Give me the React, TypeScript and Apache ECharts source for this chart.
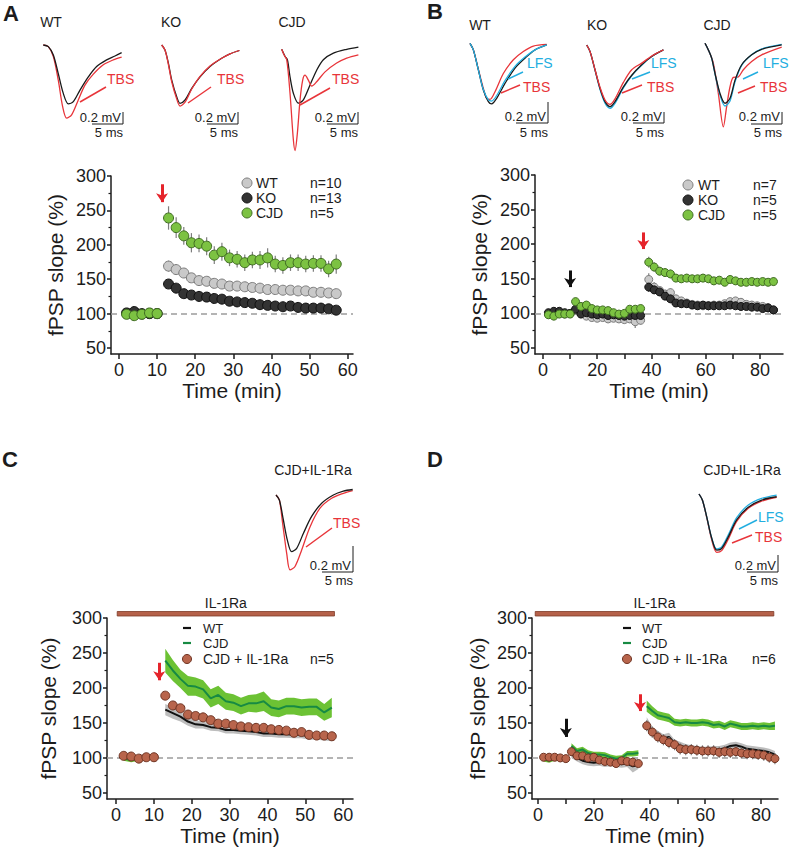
import React, { useEffect, useRef } from "react";
import * as echarts from "echarts";

// ---------------- Panel A / C time base (min) ----------------
const A_TIME = [2, 4, 6, 8, 10, 13, 15, 17, 19, 21, 23, 25, 27, 29, 31, 33, 35, 37, 39, 41, 43, 45, 47, 49, 51, 53, 55, 57];
const A_SEGMENTS = [[0, 5], [5, 28]];
const A_WT = [100, 102, 99, 100, 100, 169, 164, 159, 152, 148, 147, 144, 143, 140, 140, 139, 138, 137, 135, 135, 134, 134, 133, 133, 131, 131, 130, 129];
const A_WT_ERR = [2, 2, 2, 2, 2, 8, 8, 7, 6, 6, 5, 5, 5, 5, 5, 5, 5, 5, 5, 5, 5, 5, 5, 5, 5, 5, 5, 5];
const A_KO = [101, 103, 100, 100, 100, 143, 137, 129, 127, 125, 124, 122, 121, 118, 117, 116, 115, 113, 112, 111, 110, 111, 109, 108, 108, 108, 107, 105];
const A_KO_ERR = [2, 2, 2, 2, 2, 6, 5, 4, 4, 4, 4, 4, 4, 4, 4, 4, 4, 4, 4, 4, 4, 4, 4, 4, 4, 4, 4, 4];
const A_CJD = [99, 97, 99, 101, 100, 239, 225, 213, 203, 202, 198, 185, 190, 181, 179, 174, 178, 178, 181, 172, 170, 174, 174, 172, 173, 173, 165, 172];
const A_CJD_ERR = [3, 3, 3, 3, 3, 17, 15, 13, 14, 13, 13, 13, 13, 12, 12, 12, 12, 13, 14, 12, 12, 12, 12, 12, 12, 12, 12, 14];
const C_IL = [103, 102, 99, 101, 101, 189, 175, 171, 162, 160, 158, 154, 149, 149, 147, 145, 144, 143, 143, 141, 140, 139, 136, 137, 133, 132, 132, 131];
const C_IL_ERR = [2, 2, 2, 2, 2, 4, 4, 4, 4, 4, 4, 4, 4, 4, 4, 4, 4, 4, 4, 4, 4, 4, 4, 4, 4, 4, 5, 5];

// ---------------- Panel B / D time base (min) ----------------
const B_TIME = [2, 4, 6, 8, 10, 12, 14, 16, 18, 20, 22, 24, 26, 28, 30, 32, 34, 36, 39, 41, 43, 45, 47, 49, 51, 53, 55, 57, 59, 61, 63, 65, 67, 69, 71, 73, 75, 77, 79, 81, 83, 85];
const B_SEGMENTS = [[0, 5], [5, 18], [18, 42]];
const B_WT = [99, 101, 100, 99, 100, 105, 100, 96, 94, 93, 94, 92, 93, 92, 91, 92, 88, 90, 149, 138, 133, 128, 130, 121, 118, 115, 113, 112, 111, 111, 112, 112, 114, 117, 118, 116, 113, 112, 111, 110, 108, 105];
const B_WT_ERR = [3, 3, 3, 3, 3, 5, 5, 5, 5, 5, 5, 5, 5, 5, 5, 5, 9, 6, 9, 7, 6, 6, 6, 5, 5, 5, 5, 5, 5, 5, 5, 5, 5, 5, 5, 5, 5, 5, 5, 5, 5, 5];
const B_KO = [101, 103, 103, 101, 100, 106, 99, 101, 99, 98, 99, 97, 98, 97, 96, 97, 97, 97, 138, 134, 131, 125, 121, 115, 114, 114, 112, 111, 112, 111, 111, 111, 111, 112, 111, 110, 110, 109, 109, 107, 108, 105];
const B_KO_ERR = [3, 3, 3, 3, 3, 4, 4, 4, 4, 4, 4, 4, 4, 4, 4, 4, 4, 4, 7, 6, 5, 5, 4, 4, 4, 4, 4, 4, 4, 4, 4, 4, 4, 4, 4, 4, 4, 4, 4, 4, 4, 4];
const B_CJD = [98, 96, 99, 99, 99, 117, 110, 112, 107, 105, 105, 104, 101, 99, 100, 106, 106, 107, 174, 167, 161, 159, 157, 151, 150, 151, 150, 150, 151, 150, 147, 148, 145, 149, 147, 145, 145, 146, 145, 146, 145, 146];
const B_CJD_ERR = [3, 3, 3, 3, 3, 4, 4, 4, 4, 4, 4, 4, 4, 4, 4, 4, 4, 4, 8, 7, 6, 6, 6, 5, 5, 5, 5, 5, 5, 5, 5, 5, 5, 5, 5, 5, 5, 5, 5, 5, 5, 6];
const D_IL = [101, 101, 101, 100, 99, 109, 103, 103, 100, 101, 97, 95, 94, 92, 96, 95, 94, 92, 146, 137, 130, 126, 122, 119, 113, 112, 112, 111, 110, 110, 110, 108, 109, 108, 109, 107, 106, 106, 105, 104, 101, 99];
const D_IL_ERR = [2, 2, 2, 2, 2, 4, 4, 4, 4, 4, 4, 4, 4, 4, 4, 4, 4, 5, 8, 8, 8, 8, 8, 8, 8, 8, 8, 8, 8, 8, 8, 8, 8, 8, 8, 8, 8, 8, 8, 8, 8, 8];

// ---------------- stimulation arrows (min, % from -> to) ----------------
const ARROWS_A = [{ t: 11.3, from: 288, to: 262, kind: "TBS" }];
const ARROWS_B = [{ t: 10, from: 162, to: 138, kind: "LFS" }, { t: 37, from: 217, to: 193, kind: "TBS" }];
const ARROWS_C = [{ t: 11.4, from: 236, to: 211, kind: "TBS" }];
const ARROWS_D = [{ t: 10, from: 156, to: 130, kind: "LFS" }, { t: 36.6, from: 191, to: 167, kind: "TBS" }];

// IL-1Ra application period (min)
const IL_PERIOD_C = [0.3, 57.7];
const IL_PERIOD_D = [-1, 84.6];

// ---------------- ticks ----------------
const X_TICKS_A = [0, 10, 20, 30, 40, 50, 60];
const X_LABELS_A = [0, 10, 20, 30, 40, 50, 60];
const X_TICKS_B = [0, 10, 20, 30, 40, 50, 60, 70, 80];
const X_LABELS_B = [0, 20, 40, 60, 80];
const Y_TICKS = [50, 100, 150, 200, 250, 300];
const Y_MINOR = [75, 125, 175, 225, 275];
const BASELINE = 100;

// ---------------- example traces [ms, mV] ----------------
const TR_A_WT_PRE = [[0, 0], [0.76, -0.03], [1.52, -0.18], [2.27, -0.52], [3.03, -0.88], [3.79, -1.07], [4.55, -1.03], [5.56, -0.82], [6.82, -0.58], [8.08, -0.39], [9.6, -0.27], [10.86, -0.2], [11.87, -0.14]];
const TR_A_WT_TBS = [[0, 0], [0.76, -0.03], [1.52, -0.21], [2.27, -0.64], [2.93, -1.12], [3.54, -1.33], [4.29, -1.27], [5.3, -1.0], [6.31, -0.73], [7.58, -0.53], [9.09, -0.36], [10.6, -0.27], [11.87, -0.22]];
const TR_A_KO_PRE = [[0, 0], [0.5, -0.09], [1.01, -0.33], [1.52, -0.64], [2.27, -0.94], [2.78, -1.06], [3.54, -1.0], [4.55, -0.79], [5.81, -0.58], [7.32, -0.39], [9.09, -0.24], [10.35, -0.16], [11.77, -0.1]];
const TR_A_KO_TBS = [[0, 0], [0.5, -0.09], [1.01, -0.35], [1.52, -0.67], [2.27, -0.98], [2.78, -1.11], [3.54, -1.04], [4.55, -0.8], [5.81, -0.57], [7.32, -0.38], [9.09, -0.24], [10.35, -0.16], [11.77, -0.1]];
const TR_A_CJD_PRE = [[0, 0], [0.51, -0.13], [0.86, -0.19], [1.26, -0.5], [1.77, -0.8], [2.53, -0.98], [3.28, -0.92], [4.29, -0.65], [5.3, -0.38], [6.31, -0.19], [7.83, -0.07], [9.85, 0], [11.62, 0.04]];
const TR_A_CJD_TBS = [[0, 0], [0.35, -0.1], [0.76, -0.19], [1.26, -0.8], [1.77, -1.65], [2.02, -1.84], [2.37, -1.53], [2.78, -0.92], [3.18, -0.56], [3.54, -0.47], [4.04, -0.56], [4.55, -0.67], [5.3, -0.59], [6.57, -0.41], [8.33, -0.25], [9.85, -0.16], [11.62, -0.1]];
const TR_B_WT_PRE = [[0, 0], [0.51, -0.12], [1.26, -0.48], [2.02, -0.85], [2.78, -1.06], [3.28, -1.1], [4.04, -1.0], [5.3, -0.73], [6.82, -0.45], [8.33, -0.27], [9.85, -0.12], [11.62, -0.03]];
const TR_B_WT_LFS = [[0, 0], [0.51, -0.12], [1.26, -0.48], [2.02, -0.84], [2.78, -1.03], [3.28, -1.05], [4.04, -0.95], [5.3, -0.68], [6.82, -0.42], [8.33, -0.25], [9.85, -0.12], [11.62, -0.03]];
const TR_B_WT_TBS = [[0, 0], [0.51, -0.12], [1.26, -0.47], [2.02, -0.82], [2.53, -1.0], [3.03, -1.02], [3.79, -0.88], [5.05, -0.55], [6.57, -0.3], [8.08, -0.15], [9.6, -0.05], [11.62, -0.02]];
const TR_B_KO_PRE = [[0, 0], [0.51, -0.12], [1.26, -0.45], [2.02, -0.79], [2.78, -1.03], [3.54, -1.12], [4.29, -1.03], [5.56, -0.76], [6.82, -0.55], [8.33, -0.36], [9.85, -0.21], [11.62, -0.09]];
const TR_B_KO_LFS = [[0, 0], [0.51, -0.12], [1.26, -0.46], [2.02, -0.81], [2.78, -1.06], [3.54, -1.15], [4.29, -1.06], [5.56, -0.78], [6.82, -0.56], [8.33, -0.37], [9.85, -0.21], [11.62, -0.09]];
const TR_B_KO_TBS = [[0, 0], [0.51, -0.12], [1.26, -0.45], [2.02, -0.77], [2.78, -1.0], [3.54, -1.08], [4.29, -0.98], [5.56, -0.68], [6.82, -0.45], [8.33, -0.33], [9.85, -0.2], [11.62, -0.09]];
const TR_B_CJD_PRE = [[0, 0], [0.51, -0.12], [1.01, -0.27], [1.52, -0.55], [2.27, -0.91], [3.03, -1.09], [3.79, -1.0], [4.55, -0.67], [5.56, -0.39], [7.07, -0.21], [8.59, -0.11], [11.62, -0.03]];
const TR_B_CJD_LFS = [[0, 0], [0.51, -0.12], [1.01, -0.27], [1.52, -0.56], [2.27, -0.94], [3.03, -1.14], [3.79, -1.05], [4.55, -0.7], [5.56, -0.4], [7.07, -0.21], [8.59, -0.1], [11.62, -0.02]];
const TR_B_CJD_TBS = [[0, 0], [0.51, -0.12], [1.26, -0.36], [2.02, -0.91], [2.78, -1.52], [3.28, -1.15], [3.79, -0.79], [4.29, -0.62], [5.05, -0.61], [5.81, -0.48], [7.07, -0.33], [8.59, -0.21], [11.62, -0.07]];
const TR_C_PRE = [[0, 0], [0.51, -0.09], [1.11, -0.45], [1.72, -0.82], [2.37, -1.03], [3.13, -0.97], [4.14, -0.7], [5.4, -0.39], [6.92, -0.15], [8.69, 0], [10.2, 0.07], [11.62, 0.1]];
const TR_C_TBS = [[0, 0], [0.51, -0.09], [1.01, -0.52], [1.62, -1.06], [2.12, -1.36], [2.88, -1.3], [3.89, -1.0], [5.15, -0.58], [6.67, -0.24], [8.43, -0.06], [10.2, 0.03], [11.62, 0.08]];
const TR_D_PRE = [[0, 0], [0.51, -0.11], [1.16, -0.41], [1.92, -0.8], [2.68, -1.02], [3.43, -0.99], [4.44, -0.78], [5.71, -0.47], [7.47, -0.24], [9.49, -0.11], [11.77, -0.05]];
const TR_D_LFS = [[0, 0], [0.51, -0.11], [1.16, -0.41], [1.92, -0.8], [2.68, -1.0], [3.43, -0.96], [4.44, -0.74], [5.71, -0.43], [7.47, -0.2], [9.49, -0.08], [11.77, -0.02]];
const TR_D_TBS = [[0, 0], [0.51, -0.11], [1.16, -0.42], [1.92, -0.83], [2.68, -1.06], [3.43, -1.03], [4.44, -0.82], [5.71, -0.5], [7.47, -0.26], [9.49, -0.13], [11.77, -0.06]];

// ---------------- styles ----------------
const FONT = "'Liberation Sans', Arial, Helvetica, sans-serif";
const INK = "#1c1c1c";
const RED = "#e8353a";
const CYAN = "#23aee0";
const TRACE_BLACK = "#1a1a1a";
const GREEN = { fill: "#7cc242", stroke: "#3f6b22" };
const GRAY = { fill: "#c9c9c9", stroke: "#7b7b7b" };
const DARK = { fill: "#333333", stroke: "#111111" };
const BROWN = { fill: "#b8654c", stroke: "#6e3322" };
const CJD_LINE = "#178a43";
const CJD_BAND = "#6cc234";
const WT_BAND = "#bdbdbd";
const ERR = "#7d7d7d";

const PANELS = [
  { left: 111, top: 176, right: 353, bottom: 354, xmin: -2.1, xmax: 61.4, xTicks: X_TICKS_A, xLabels: X_LABELS_A, xGap: 24, yGap: 45 },
  { left: 535, top: 175, right: 783, bottom: 354, xmin: -2.95, xmax: 88.5, xTicks: X_TICKS_B, xLabels: X_LABELS_B, xGap: 24, yGap: 45 },
  { left: 107, top: 618, right: 353, bottom: 799, xmin: -2.4, xmax: 62.6, xTicks: X_TICKS_A, xLabels: X_LABELS_A, xGap: 26, yGap: 48 },
  { left: 532, top: 618, right: 778, bottom: 799, xmin: -2.15, xmax: 86.1, xTicks: X_TICKS_B, xLabels: X_LABELS_B, xGap: 26, yGap: 44 },
];
const YMIN = 41.3;
const YMAX = 300;

const TRACE_GROUPS = [
  { ox: 43.3, oy: 45, lines: [{ d: TR_A_WT_TBS, c: RED }, { d: TR_A_WT_PRE, c: TRACE_BLACK }] },
  { ox: 161.7, oy: 45, lines: [{ d: TR_A_KO_PRE, c: TRACE_BLACK }, { d: TR_A_KO_TBS, c: RED }] },
  { ox: 281.7, oy: 49.3, lines: [{ d: TR_A_CJD_PRE, c: TRACE_BLACK }, { d: TR_A_CJD_TBS, c: RED }] },
  { ox: 470, oy: 43.3, lines: [{ d: TR_B_WT_TBS, c: RED }, { d: TR_B_WT_PRE, c: TRACE_BLACK }, { d: TR_B_WT_LFS, c: CYAN }] },
  { ox: 586.7, oy: 45, lines: [{ d: TR_B_KO_LFS, c: CYAN }, { d: TR_B_KO_PRE, c: TRACE_BLACK }, { d: TR_B_KO_TBS, c: RED }] },
  { ox: 705, oy: 43.3, lines: [{ d: TR_B_CJD_TBS, c: RED }, { d: TR_B_CJD_LFS, c: CYAN }, { d: TR_B_CJD_PRE, c: TRACE_BLACK }] },
  { ox: 276, oy: 495, lines: [{ d: TR_C_TBS, c: RED }, { d: TR_C_PRE, c: TRACE_BLACK }] },
  { ox: 699, oy: 494, lines: [{ d: TR_D_TBS, c: RED }, { d: TR_D_LFS, c: CYAN }, { d: TR_D_PRE, c: TRACE_BLACK }] },
];
const TR_PX_PER_MS = 6.6;
const TR_PX_PER_MV = 55;

function errSeries(gi: number, T: number[], V: number[], E: number[], z: number) {
  return {
    type: "custom",
    xAxisIndex: gi,
    yAxisIndex: gi,
    z,
    silent: true,
    data: T.map((t, i) => [t, V[i], E[i]]),
    encode: { x: 0, y: 1 },
    renderItem: (_p: any, api: any) => {
      const t = api.value(0);
      const v = api.value(1);
      const e = api.value(2);
      const a = api.coord([t, v - e]);
      const b = api.coord([t, v + e]);
      return { type: "line", shape: { x1: a[0], y1: a[1], x2: b[0], y2: b[1] }, style: { stroke: ERR, lineWidth: 1.2 } };
    },
  };
}

function scatterSeries(gi: number, T: number[], V: number[], col: any, size: number, z: number, extra: any = {}) {
  return {
    type: "scatter",
    xAxisIndex: gi,
    yAxisIndex: gi,
    z,
    symbol: "circle",
    symbolSize: size,
    data: T.map((t, i) => [t, V[i]]),
    itemStyle: { color: col.fill, borderColor: col.stroke, borderWidth: 1, opacity: 1 },
    ...extra,
  };
}

function bandSeries(gi: number, T: number[], V: number[], E: number[], segs: number[][], color: string, z: number) {
  return {
    type: "custom",
    xAxisIndex: gi,
    yAxisIndex: gi,
    z,
    silent: true,
    data: [[T[0], V[0]]],
    renderItem: (_p: any, api: any) => {
      const children = segs.map(([s, e]) => {
        const up: number[][] = [];
        const dn: number[][] = [];
        for (let i = s; i < e; i++) {
          up.push(api.coord([T[i], V[i] + E[i]]));
          dn.push(api.coord([T[i], V[i] - E[i]]));
        }
        return { type: "polygon", shape: { points: up.concat(dn.reverse()) }, style: { fill: color } };
      });
      return { type: "group", children };
    },
  };
}

function lineSeries(gi: number, T: number[], V: number[], segs: number[][], color: string, z: number) {
  return segs.map(([s, e]) => ({
    type: "line",
    xAxisIndex: gi,
    yAxisIndex: gi,
    z,
    silent: true,
    symbol: "none",
    data: T.slice(s, e).map((t, i) => [t, V[s + i]]),
    lineStyle: { color, width: 2 },
  }));
}

function dashedMark() {
  return {
    silent: true,
    z: 1,
    symbol: ["none", "none"],
    label: { show: false },
    lineStyle: { color: "#9c9c9c", type: [6, 4], width: 1.5 },
    data: [{ yAxis: BASELINE }],
  };
}

function arrowMark(arrows: any[]) {
  return {
    silent: true,
    z: 20,
    symbol: ["none", "arrow"],
    symbolSize: 9,
    label: { show: false },
    data: arrows.map((a) => {
      const ls = { color: a.kind === "TBS" ? "#e5242b" : "#111111", width: 3, type: "solid" };
      return [
        { coord: [a.t, a.from], lineStyle: ls },
        { coord: [a.t, a.to], lineStyle: ls },
      ];
    }),
  };
}

function buildOption() {
  const grid: any[] = [];
  const xAxis: any[] = [];
  const yAxis: any[] = [];
  const series: any[] = [];

  PANELS.forEach((p, i) => {
    grid.push({ left: p.left, top: p.top, width: p.right - p.left, height: p.bottom - p.top });
    xAxis.push({
      type: "value",
      gridIndex: i,
      min: p.xmin,
      max: p.xmax,
      axisLine: { show: true, onZero: false, lineStyle: { color: INK, width: 1.5 } },
      axisTick: { show: true, inside: false, length: 5, customValues: p.xTicks, lineStyle: { color: INK, width: 1.5 } },
      axisLabel: { customValues: p.xLabels, margin: 7, fontSize: 18, color: INK, fontFamily: FONT },
      splitLine: { show: false },
      name: "Time (min)",
      nameLocation: "middle",
      nameGap: p.xGap,
      nameTextStyle: { fontSize: 21, color: INK, fontFamily: FONT },
    });
  });
  PANELS.forEach((p, i) => {
    yAxis.push({
      type: "value",
      gridIndex: i,
      position: "left",
      min: YMIN,
      max: YMAX,
      axisLine: { show: true, onZero: false, lineStyle: { color: INK, width: 1.5 } },
      axisTick: { show: true, inside: false, length: 4, customValues: Y_TICKS, lineStyle: { color: INK, width: 1.5 } },
      axisLabel: { customValues: Y_TICKS, margin: 5, fontSize: 18, color: INK, fontFamily: FONT },
      splitLine: { show: false },
      name: "fPSP slope (%)",
      nameLocation: "middle",
      nameGap: p.yGap,
      nameTextStyle: { fontSize: 21, color: INK, fontFamily: FONT },
    });
  });
  PANELS.forEach((_p, i) => {
    yAxis.push({
      type: "value",
      gridIndex: i,
      position: "left",
      min: YMIN,
      max: YMAX,
      axisLine: { show: false, onZero: false },
      axisTick: { show: true, inside: false, length: 2.5, customValues: Y_MINOR, lineStyle: { color: INK, width: 1.2 } },
      axisLabel: { show: false },
      splitLine: { show: false },
    });
  });

  TRACE_GROUPS.forEach((g, k) => {
    const gi = 4 + k;
    grid.push({ left: g.ox, top: g.oy - 0.2 * TR_PX_PER_MV, width: 12 * TR_PX_PER_MS, height: 2.2 * TR_PX_PER_MV });
    xAxis.push({ type: "value", gridIndex: gi, min: 0, max: 12, show: false });
    yAxis.push({ type: "value", gridIndex: gi, min: -2, max: 0.2, show: false });
    g.lines.forEach((ln) => {
      series.push({
        type: "line",
        xAxisIndex: gi,
        yAxisIndex: 8 + k,
        data: ln.d,
        symbol: "none",
        smooth: 0.3,
        silent: true,
        lineStyle: { color: ln.c, width: 1.3 },
        z: 5,
      });
    });
  });

  // Panel A
  series.push(errSeries(0, A_TIME, A_WT, A_WT_ERR, 3));
  series.push(errSeries(0, A_TIME, A_KO, A_KO_ERR, 3));
  series.push(errSeries(0, A_TIME, A_CJD, A_CJD_ERR, 3));
  series.push(scatterSeries(0, A_TIME, A_WT, GRAY, 10, 10, { markLine: dashedMark() }));
  series.push(scatterSeries(0, A_TIME, A_KO, DARK, 10, 11, { markLine: arrowMark(ARROWS_A) }));
  series.push(scatterSeries(0, A_TIME, A_CJD, GREEN, 10, 12));

  // Panel B
  series.push(errSeries(1, B_TIME, B_WT, B_WT_ERR, 3));
  series.push(errSeries(1, B_TIME, B_KO, B_KO_ERR, 3));
  series.push(errSeries(1, B_TIME, B_CJD, B_CJD_ERR, 3));
  series.push(scatterSeries(1, B_TIME, B_WT, GRAY, 8, 10, { markLine: dashedMark() }));
  series.push(scatterSeries(1, B_TIME, B_KO, DARK, 8, 11, { markLine: arrowMark(ARROWS_B) }));
  series.push(scatterSeries(1, B_TIME, B_CJD, GREEN, 8, 12));

  // Panel C
  series.push(bandSeries(2, A_TIME, A_CJD, A_CJD_ERR, A_SEGMENTS, CJD_BAND, 1));
  series.push(bandSeries(2, A_TIME, A_WT, A_WT_ERR, A_SEGMENTS, WT_BAND, 1));
  series.push(...lineSeries(2, A_TIME, A_CJD, A_SEGMENTS, CJD_LINE, 2));
  series.push(...lineSeries(2, A_TIME, A_WT, A_SEGMENTS, "#111111", 2));
  series.push(errSeries(2, A_TIME, C_IL, C_IL_ERR, 3));
  series.push(scatterSeries(2, A_TIME, C_IL, BROWN, 9, 10, { markLine: dashedMark() }));
  series.push({ ...scatterSeries(2, [], [], BROWN, 0, 11), markLine: arrowMark(ARROWS_C), data: [[A_TIME[0], C_IL[0]]], symbolSize: 0 });

  // Panel D
  series.push(bandSeries(3, B_TIME, B_CJD, B_CJD_ERR, B_SEGMENTS, CJD_BAND, 1));
  series.push(bandSeries(3, B_TIME, B_WT, B_WT_ERR, B_SEGMENTS, WT_BAND, 1));
  series.push(...lineSeries(3, B_TIME, B_CJD, B_SEGMENTS, CJD_LINE, 2));
  series.push(...lineSeries(3, B_TIME, B_WT, B_SEGMENTS, "#111111", 2));
  series.push(errSeries(3, B_TIME, D_IL, D_IL_ERR, 3));
  series.push(scatterSeries(3, B_TIME, D_IL, BROWN, 8, 10, { markLine: dashedMark() }));
  series.push({ ...scatterSeries(3, [], [], BROWN, 0, 11), markLine: arrowMark(ARROWS_D), data: [[B_TIME[0], D_IL[0]]], symbolSize: 0 });

  return {
    animation: false,
    backgroundColor: "#ffffff",
    textStyle: { fontFamily: FONT },
    grid,
    xAxis,
    yAxis,
    series,
  };
}

function txt(text: string, x: number, y: number, o: any = {}) {
  return {
    type: "text",
    x,
    y,
    silent: true,
    z: 50,
    style: {
      text,
      fontSize: o.size || 14,
      fontFamily: FONT,
      fontWeight: o.bold ? "bold" : "normal",
      fill: o.color || INK,
      align: o.align || "left",
      verticalAlign: "middle",
    },
  };
}
function seg(x1: number, y1: number, x2: number, y2: number, color: string, w = 1.5) {
  return { type: "line", silent: true, z: 50, shape: { x1, y1, x2, y2 }, style: { stroke: color, lineWidth: w } };
}
function dot(cx: number, cy: number, r: number, col: any) {
  return { type: "circle", silent: true, z: 50, shape: { cx, cy, r }, style: { fill: col.fill, stroke: col.stroke, lineWidth: 1 } };
}
function scaleBar(vx: number, vyTop: number, hy: number, hLen: number, textY: number, msY: number) {
  return [
    seg(vx, vyTop, vx, hy, INK, 1),
    seg(vx - hLen, hy, vx, hy, INK, 1),
    txt("0.2 mV", vx - 2, textY, { size: 13, align: "right" }),
    txt("5 ms", vx, msY, { size: 13, align: "right" }),
  ];
}

function buildGraphics(chart: any) {
  const g: any[] = [];
  // panel letters
  g.push(txt("A", 3, 13, { size: 22, bold: true }));
  g.push(txt("B", 427, 11, { size: 22, bold: true }));
  g.push(txt("C", 2, 459, { size: 22, bold: true }));
  g.push(txt("D", 427, 459, { size: 22, bold: true }));
  // trace titles
  g.push(txt("WT", 51, 22, { align: "center" }));
  g.push(txt("KO", 171, 22, { align: "center" }));
  g.push(txt("CJD", 292, 22, { align: "center" }));
  g.push(txt("WT", 480, 25, { align: "center" }));
  g.push(txt("KO", 597, 25, { align: "center" }));
  g.push(txt("CJD", 717, 25, { align: "center" }));
  g.push(txt("CJD+IL-1Ra", 313, 470, { align: "center" }));
  g.push(txt("CJD+IL-1Ra", 742, 470, { align: "center" }));
  // TBS / LFS labels
  g.push(txt("TBS", 107, 79, { size: 14, color: RED }), seg(80, 102, 106, 87, RED));
  g.push(txt("TBS", 217, 79, { size: 14, color: RED }), seg(188, 103, 211, 87, RED));
  g.push(txt("TBS", 332, 79, { size: 14, color: RED }), seg(300, 105, 330, 88, RED));
  g.push(txt("LFS", 527, 63, { size: 14, color: CYAN }), seg(508, 79, 523, 72, CYAN));
  g.push(txt("TBS", 523, 87, { size: 14, color: RED }), seg(501, 93, 520, 85, RED));
  g.push(txt("LFS", 651, 63, { size: 14, color: CYAN }), seg(632, 79, 650, 72, CYAN));
  g.push(txt("TBS", 647, 87, { size: 14, color: RED }), seg(622, 93, 642, 85, RED));
  g.push(txt("LFS", 763, 63, { size: 14, color: CYAN }), seg(743, 79, 758, 72, CYAN));
  g.push(txt("TBS", 760, 87, { size: 14, color: RED }), seg(738, 93, 755, 86, RED));
  g.push(txt("TBS", 333, 523, { size: 14, color: RED }), seg(306, 547, 332, 528, RED));
  g.push(txt("LFS", 758, 517, { size: 14, color: CYAN }), seg(739, 529, 757, 520, CYAN));
  g.push(txt("TBS", 755, 537, { size: 14, color: RED }), seg(732, 543, 752, 535, RED));
  // scale bars
  g.push(...scaleBar(123, 112, 124, 31, 117, 132));
  g.push(...scaleBar(238, 112, 124, 31, 117, 132));
  g.push(...scaleBar(358, 112, 124, 31, 117, 132));
  g.push(...scaleBar(548, 102, 123, 32, 116, 132));
  g.push(...scaleBar(664, 112, 123, 31, 116, 132));
  g.push(...scaleBar(782, 112, 124, 31, 116, 132));
  g.push(...scaleBar(353, 546, 572, 31, 565, 580));
  g.push(...scaleBar(778, 555, 572, 31, 565, 580));
  // legends A, B
  const legA = [["WT", "n=10", GRAY], ["KO", "n=13", DARK], ["CJD", "n=5", GREEN]];
  legA.forEach((r: any, i) => {
    const y = 183 + i * 15;
    g.push(dot(247, y, 5, r[2]), txt(r[0], 256, y), txt(r[1], 310, y));
  });
  const legB = [["WT", "n=7", GRAY], ["KO", "n=5", DARK], ["CJD", "n=5", GREEN]];
  legB.forEach((r: any, i) => {
    const y = 185 + i * 15;
    g.push(dot(688, y, 5, r[2]), txt(r[0], 698, y), txt(r[1], 753, y));
  });
  // legends C, D
  const legCD = [
    { x: 187, tx: 203, nx: 310, n: "n=5" },
    { x: 627, tx: 642, nx: 752, n: "n=6" },
  ];
  legCD.forEach((l) => {
    g.push(seg(l.x - 4, 628, l.x + 4, 628, "#111111", 2.2), txt("WT", l.tx, 628, { size: 13 }));
    g.push(seg(l.x - 4, 643, l.x + 4, 643, CJD_LINE, 2.2), txt("CJD", l.tx, 643, { size: 13 }));
    g.push(dot(l.x, 659, 4.5, BROWN), txt("CJD + IL-1Ra", l.tx, 659, { size: 14 }), txt(l.n, l.nx, 659, { size: 14 }));
  });
  // IL-1Ra application bars (through the chart's own scales)
  const bars = [
    { gi: 2, per: IL_PERIOD_C },
    { gi: 3, per: IL_PERIOD_D },
  ];
  bars.forEach((b) => {
    const p1 = chart.convertToPixel({ xAxisIndex: b.gi, yAxisIndex: b.gi }, [b.per[0], YMAX]);
    const p2 = chart.convertToPixel({ xAxisIndex: b.gi, yAxisIndex: b.gi }, [b.per[1], YMAX]);
    const y = p1[1] - 6.5;
    g.push({
      type: "rect",
      silent: true,
      z: 50,
      shape: { x: p1[0], y, width: p2[0] - p1[0], height: 4.5 },
      style: { fill: "#b5614a", stroke: "#7d3a27", lineWidth: 0.8 },
    });
    g.push(txt("IL-1Ra", (p1[0] + p2[0]) / 2, y - 9, { align: "center" }));
  });
  return g;
}

export default function App() {
  const ref = useRef<HTMLDivElement>(null);
  useEffect(() => {
    if (!ref.current) return;
    const chart = echarts.init(ref.current, null, { renderer: "svg" });
    chart.setOption(buildOption() as any);
    chart.setOption({ graphic: buildGraphics(chart) } as any);
    return () => chart.dispose();
  }, []);
  return (
    <div
      ref={ref}
      style={{ position: "fixed", left: 0, top: 0, width: 790, height: 853, background: "#ffffff" }}
    />
  );
}
